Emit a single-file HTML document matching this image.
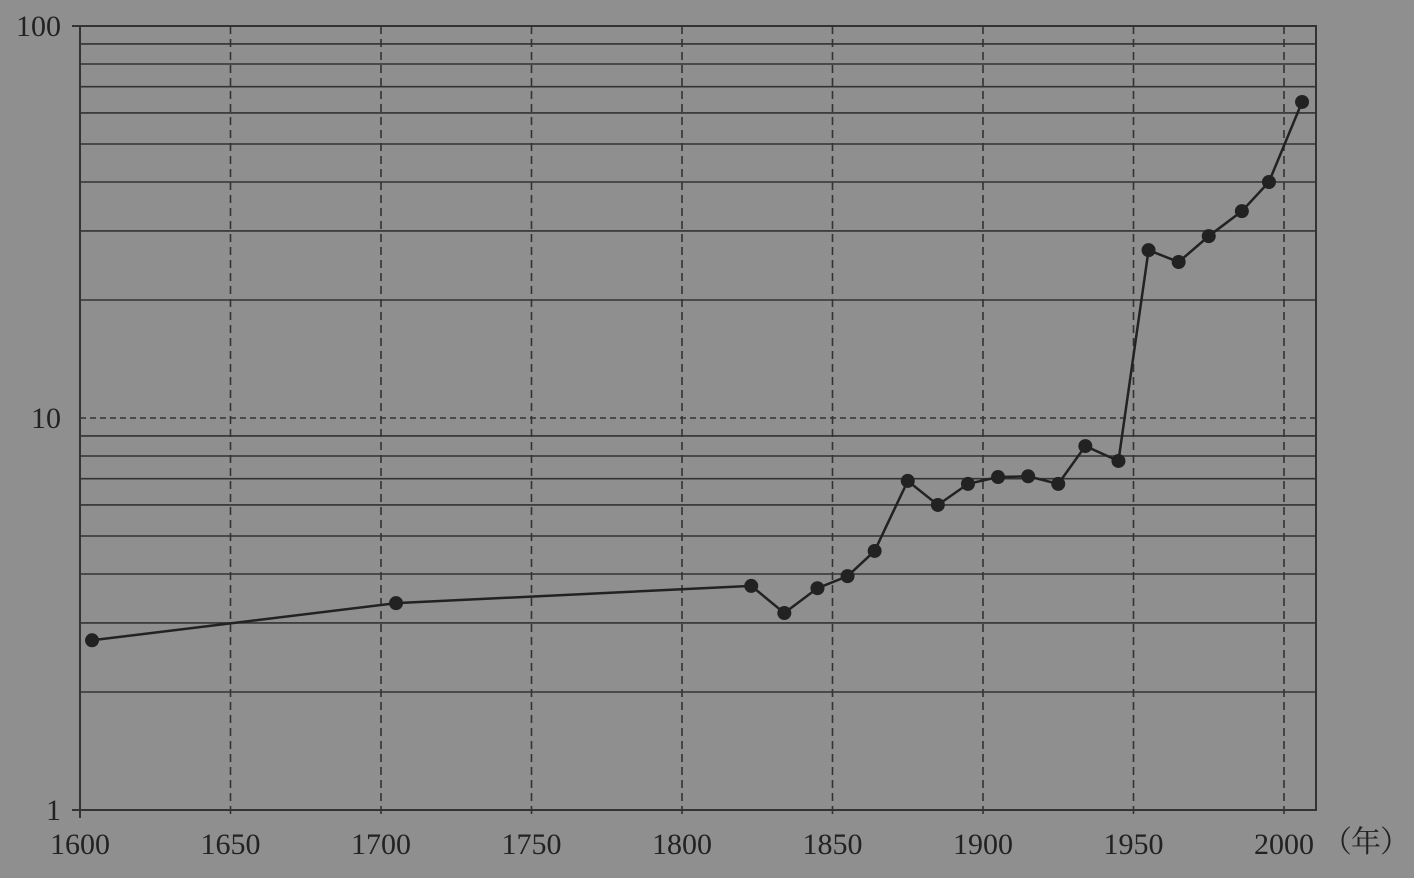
<!DOCTYPE html>
<html><head><meta charset="utf-8"><style>
html,body{margin:0;padding:0;background:#8f8f8f;}
svg{display:block;}
text{font-family:"Liberation Serif","Noto Serif CJK SC",serif;font-size:30px;fill:#222;}
</style></head><body>
<svg id="chart" width="1414" height="878">
<rect width="1414" height="878" fill="#8f8f8f"/>
<g id="grid"></g><g id="axes"></g><g id="series"></g>
</svg>
<script>
const years=[1604,1705,1823,1834,1845,1855,1864,1875,1885,1895,1905,1915,1925,1934,1945,1955,1965,1975,1986,1995,2006];
const values=[2.71,3.37,3.73,3.18,3.68,3.95,4.58,6.91,6.0,6.79,7.07,7.1,6.79,8.48,7.77,26.8,25.0,29.1,33.7,40.0,64.0];
const xTicks=[1600,1650,1700,1750,1800,1850,1900,1950,2000];
const yTicks=[1,10,100];
const NS="http://www.w3.org/2000/svg";
const L=80,R=1316,T=26,B=810;
const x=y=>80+(y-1600)*(1284-80)/400;
const yv=v=>B-Math.log10(v)*(B-T)/2;
function mk(tag,attrs,parent){const e=document.createElementNS(NS,tag);for(const k in attrs)e.setAttribute(k,attrs[k]);document.getElementById(parent).appendChild(e);return e;}
for(let d=0;d<2;d++){for(let m=2;m<=10;m++){const v=m*Math.pow(10,d);const yy=yv(v);
 const ln=mk('line',{x1:L,x2:R,y1:yy,y2:yy,stroke:'#333','stroke-width':1.6},'grid');
 if(v===10)ln.setAttribute('stroke-dasharray','6,4');
 
 }}
xTicks.forEach(t=>{if(t===1600)return;const xx=x(t);
 const ln=mk('line',{x1:xx,x2:xx,y1:T,y2:B+8,stroke:'#333','stroke-width':1.6,'stroke-dasharray':'8,5'},'grid');
 
 });
const fr=mk('path',{d:`M${L-8},${T}H${R}V${B}H${L-8}M${L},${T}V${B+8}`,fill:'none',stroke:'#333','stroke-width':2},'axes');


xTicks.forEach(t=>{const tx=mk('text',{x:x(t),y:854,'text-anchor':'middle'},'axes');tx.textContent=t;
 
 });
yTicks.forEach(t=>{const tx=mk('text',{x:61,y:yv(t)+10,'text-anchor':'end'},'axes');tx.textContent=t;
 
 });
const unit=mk('text',{x:1322,y:852},'axes');unit.textContent='（年）';


unit.setAttribute('textLength','88');
const pl=mk('polyline',{points:years.map((yr,i)=>x(yr)+','+yv(values[i])).join(' '),fill:'none',stroke:'#222','stroke-width':2.5},'series');


years.forEach((yr,i)=>{const c=mk('circle',{cx:x(yr),cy:yv(values[i]),r:7,fill:'#222'},'series');
 
 });
</script>
</body></html>
